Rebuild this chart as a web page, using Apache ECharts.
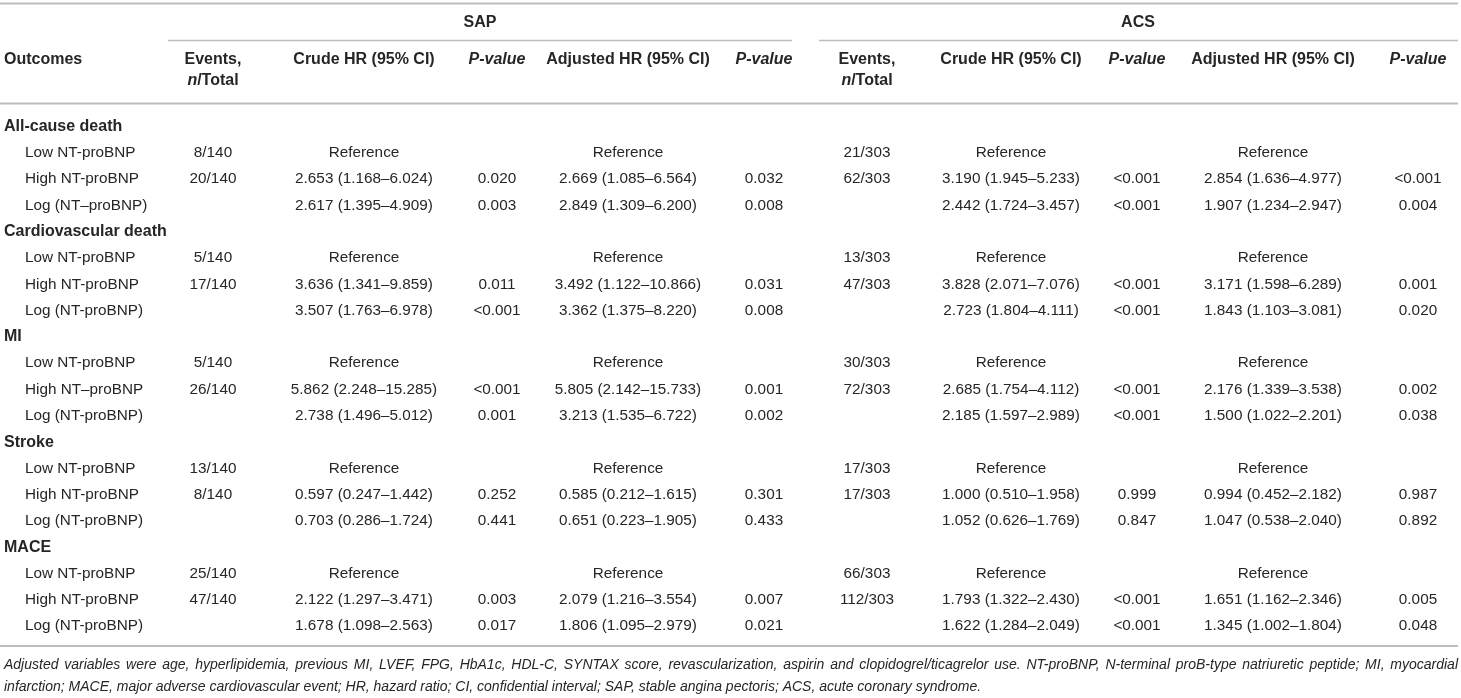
<!DOCTYPE html>
<html lang="en">
<head>
<meta charset="UTF-8">
<title>NT-proBNP and clinical outcomes in SAP and ACS</title>
<script src="https://cdn.jsdelivr.net/npm/echarts@6/dist/echarts.min.js"></script>
<style>
  html, body { margin: 0; padding: 0; background: #fff; }
  #main { width: 1461px; height: 698px; }
</style>
</head>
<body>
<div id="main"></div>
<script>
// ---- table content ----
const outcomes = ['All-cause death', 'Cardiovascular death', 'MI', 'Stroke', 'MACE'];
const subgroups = [
  ['Low NT-proBNP', 'High NT-proBNP', 'Log (NT–proBNP)'],
  ['Low NT-proBNP', 'High NT-proBNP', 'Log (NT-proBNP)'],
  ['Low NT-proBNP', 'High NT–proBNP', 'Log (NT-proBNP)'],
  ['Low NT-proBNP', 'High NT-proBNP', 'Log (NT-proBNP)'],
  ['Low NT-proBNP', 'High NT-proBNP', 'Log (NT-proBNP)']
];
const groupHeads = ['SAP', 'ACS'];
const colHeads = ['Events,', 'Crude HR (95% CI)', 'P-value', 'Adjusted HR (95% CI)', 'P-value'];

const sapEvents = [['8/140', '20/140', ''], ['5/140', '17/140', ''], ['5/140', '26/140', ''], ['13/140', '8/140', ''], ['25/140', '47/140', '']];
const sapCrudeHR = [
  ['Reference', '2.653 (1.168–6.024)', '2.617 (1.395–4.909)'],
  ['Reference', '3.636 (1.341–9.859)', '3.507 (1.763–6.978)'],
  ['Reference', '5.862 (2.248–15.285)', '2.738 (1.496–5.012)'],
  ['Reference', '0.597 (0.247–1.442)', '0.703 (0.286–1.724)'],
  ['Reference', '2.122 (1.297–3.471)', '1.678 (1.098–2.563)']
];
const sapCrudeP = [['', '0.020', '0.003'], ['', '0.011', '<0.001'], ['', '<0.001', '0.001'], ['', '0.252', '0.441'], ['', '0.003', '0.017']];
const sapAdjHR = [
  ['Reference', '2.669 (1.085–6.564)', '2.849 (1.309–6.200)'],
  ['Reference', '3.492 (1.122–10.866)', '3.362 (1.375–8.220)'],
  ['Reference', '5.805 (2.142–15.733)', '3.213 (1.535–6.722)'],
  ['Reference', '0.585 (0.212–1.615)', '0.651 (0.223–1.905)'],
  ['Reference', '2.079 (1.216–3.554)', '1.806 (1.095–2.979)']
];
const sapAdjP = [['', '0.032', '0.008'], ['', '0.031', '0.008'], ['', '0.001', '0.002'], ['', '0.301', '0.433'], ['', '0.007', '0.021']];

const acsEvents = [['21/303', '62/303', ''], ['13/303', '47/303', ''], ['30/303', '72/303', ''], ['17/303', '17/303', ''], ['66/303', '112/303', '']];
const acsCrudeHR = [
  ['Reference', '3.190 (1.945–5.233)', '2.442 (1.724–3.457)'],
  ['Reference', '3.828 (2.071–7.076)', '2.723 (1.804–4.111)'],
  ['Reference', '2.685 (1.754–4.112)', '2.185 (1.597–2.989)'],
  ['Reference', '1.000 (0.510–1.958)', '1.052 (0.626–1.769)'],
  ['Reference', '1.793 (1.322–2.430)', '1.622 (1.284–2.049)']
];
const acsCrudeP = [['', '<0.001', '<0.001'], ['', '<0.001', '<0.001'], ['', '<0.001', '<0.001'], ['', '0.999', '0.847'], ['', '<0.001', '<0.001']];
const acsAdjHR = [
  ['Reference', '2.854 (1.636–4.977)', '1.907 (1.234–2.947)'],
  ['Reference', '3.171 (1.598–6.289)', '1.843 (1.103–3.081)'],
  ['Reference', '2.176 (1.339–3.538)', '1.500 (1.022–2.201)'],
  ['Reference', '0.994 (0.452–2.182)', '1.047 (0.538–2.040)'],
  ['Reference', '1.651 (1.162–2.346)', '1.345 (1.002–1.804)']
];
const acsAdjP = [['', '<0.001', '0.004'], ['', '0.001', '0.020'], ['', '0.002', '0.038'], ['', '0.987', '0.892'], ['', '0.005', '0.048']];

const footnoteLines = [
  'Adjusted variables were age, hyperlipidemia, previous MI, LVEF, FPG, HbA1c, HDL-C, SYNTAX score, revascularization, aspirin and clopidogrel/ticagrelor use. NT-proBNP, N-terminal proB-type natriuretic peptide; MI, myocardial',
  'infarction; MACE, major adverse cardiovascular event; HR, hazard ratio; CI, confidential interval; SAP, stable angina pectoris; ACS, acute coronary syndrome.'
];

// ---- layout ----
const W = 1461;
const FONT = '"Liberation Sans", Arial, Helvetica, sans-serif';
const TEXT = '#262626';
const RULE = '#bdbdbd';
const BOLD = 'bold 16px ' + FONT;
const colX = [213, 364, 497, 628, 764, 867, 1011, 1137, 1273, 1418];
const groupX = [480, 1138];
const columns = [sapEvents, sapCrudeHR, sapCrudeP, sapAdjHR, sapAdjP, acsEvents, acsCrudeHR, acsCrudeP, acsAdjHR, acsAdjP];

// build one record per text cell: [x on value axis, row index]
const cellPos = [];
const cellText = [];
const cellKind = [];
outcomes.forEach((name, g) => {
  const r0 = g * 4;
  cellPos.push([4, r0]); cellText.push(name); cellKind.push('group');
  subgroups[g].forEach((lab, k) => {
    const r = r0 + 1 + k;
    cellPos.push([25, r]); cellText.push(lab); cellKind.push('sub');
    columns.forEach((col, c) => {
      const t = col[g][k];
      if (t) { cellPos.push([colX[c], r]); cellText.push(t); cellKind.push('cell'); }
    });
  });
});
const rowIds = [];
for (let i = 0; i < outcomes.length * 4; i++) rowIds.push(i);

function renderCell(params, api) {
  const pt = api.coord([api.value(0), api.value(1)]);
  const kind = cellKind[params.dataIndex];
  return {
    type: 'text',
    x: pt[0],
    y: pt[1],
    style: {
      text: cellText[params.dataIndex],
      fill: TEXT,
      font: kind === 'group' ? BOLD : '15.3px ' + FONT,
      align: kind === 'cell' ? 'center' : 'left',
      verticalAlign: 'middle'
    }
  };
}

// ---- header, rules and footnote as graphic elements ----
const graphics = [];
function hline(x1, x2, y, w) {
  graphics.push({ type: 'line', shape: { x1: x1, y1: y, x2: x2, y2: y }, style: { stroke: RULE, lineWidth: w }, silent: true });
}
function label(text, x, y, font, align, rich) {
  graphics.push({
    type: 'text', x: x, y: y, silent: true,
    style: { text: text, font: font, fill: TEXT, align: align || 'center', verticalAlign: 'middle', rich: rich }
  });
}
hline(0, 1458, 3.5, 2);
hline(168, 792, 40.5, 1.5);
hline(819, 1458, 40.5, 1.5);
hline(0, 1458, 103.5, 2);
hline(0, 1458, 646, 2);

groupHeads.forEach((h, i) => label(h, groupX[i], 23, BOLD));
label('Outcomes', 4, 60, BOLD, 'left');
[0, 5].forEach(off => {
  colHeads.forEach((h, j) => {
    const italic = h === 'P-value';
    label(h, colX[off + j], 60, (italic ? 'italic ' : '') + BOLD);
  });
  label('{i|n}/Total', colX[off], 81, BOLD, 'center',
    { i: { fontStyle: 'italic', fontWeight: 'bold', fontSize: 16, fontFamily: FONT, fill: TEXT } });
});

// footnote: first line justified across the table width
const fnFont = 'italic 14px ' + FONT;
const ctx = document.createElement('canvas').getContext('2d');
ctx.font = fnFont;
const words = footnoteLines[0].split(' ');
const widths = words.map(w => ctx.measureText(w).width);
const total = widths.reduce((a, b) => a + b, 0);
const gap = (1458 - 4 - total) / (words.length - 1);
let fx = 4;
words.forEach((w, i) => {
  label(w, fx, 665, fnFont, 'left');
  fx += widths[i] + gap;
});
label(footnoteLines[1], 4, 687, fnFont, 'left');

// ---- chart ----
const chart = echarts.init(document.getElementById('main'));
chart.setOption({
  animation: false,
  backgroundColor: '#fff',
  grid: { left: 0, right: 0, top: 113.35, height: 526 },
  xAxis: { type: 'value', min: 0, max: W, show: false },
  yAxis: { type: 'category', data: rowIds, inverse: true, show: false },
  series: [{
    type: 'custom',
    clip: false,
    renderItem: renderCell,
    encode: { x: 0, y: 1 },
    data: cellPos
  }],
  graphic: graphics
});
</script>
</body>
</html>
